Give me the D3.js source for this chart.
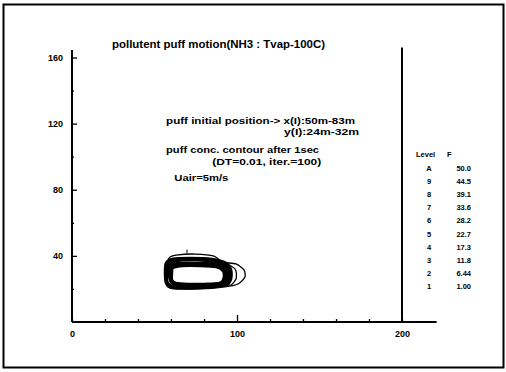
<!DOCTYPE html>
<html>
<head>
<meta charset="utf-8">
<script src="https://cdn.jsdelivr.net/npm/d3@7"></script>
<style>
  body { margin: 0; background: #fff; }
  svg text { font-family: 'Liberation Sans', Arial, sans-serif; font-weight: bold; fill: #000; }
</style>
</head>
<body>
<div id="chart"></div>
<script>
const title = 'pollutent puff motion(NH3 : Tvap-100C)'
const notes = [
  { text: 'puff initial position-> x(I):50m-83m', x: 57, y: 120, len: 189, anchor: 'start' },
  { text: 'y(I):24m-32m', x: 174, y: 113, len: 75, anchor: 'end' },
  { text: 'puff conc. contour after 1sec', x: 57, y: 102, len: 153, anchor: 'start' },
  { text: '(DT=0.01, iter.=100)', x: 85, y: 95, len: 109, anchor: 'start' },
  { text: 'Uair=5m/s', x: 62, y: 85.5, len: 54, anchor: 'start' }
]
const xTicks = [0, 20, 40, 60, 80, 100, 120, 140, 160, 180, 200]
const xLabels = [0, 100, 200]
const yTicks = [20, 40, 60, 80, 100, 120, 140, 160]
const yLabels = [40, 80, 120, 160]
const levels = ['A', '9', '8', '7', '6', '5', '4', '3', '2', '1']
const levelValues = ['50.0', '44.5', '39.1', '33.6', '28.2', '22.7', '17.3', '11.8', '6.44', '1.00']

// contour rings, in metres
const ringOuter = [[57.6, 36.3], [59.4, 39.3], [63, 40.5], [74.5, 41.1], [86.1, 39.9], [91, 36.3], [99.4, 35.1],
  [104.2, 31.5], [104.8, 27.2], [100.6, 23], [92.7, 21.2], [77.6, 20], [59.4, 20.6], [56.4, 25.4], [56.4, 32.7]]
const ringRight = [[90.9, 35.1], [96.4, 33.9], [99.4, 30.9], [99.4, 26], [96.4, 22.4], [92.7, 23], [94.5, 27.2], [94.5, 31.5]]
const ringsInner = [
  [[57, 35.7], [60.6, 38.1], [71.5, 38.7], [84.8, 38.1], [93.3, 35.7], [96.4, 31.5], [96.4, 26], [93.3, 22.4],
    [77.6, 20.6], [60.6, 20.6], [57, 23.6], [56.4, 30.2]],
  [[57.6, 35.4], [61.8, 37.5], [73, 38.1], [85.5, 37.2], [93.3, 34.8], [95.8, 30.9], [95.2, 25.7], [92.1, 22.4],
    [77, 20.9], [60.6, 21.2], [57.3, 24.2], [57, 30.9]],
  [[58.2, 35.1], [63, 36.9], [74.5, 37.5], [86.7, 36.3], [93.3, 33.9], [95.2, 30.2], [94.5, 25.4], [90.9, 22.4],
    [76.4, 21.2], [60.6, 21.8], [57.6, 24.8], [57.6, 31.5]],
  [[59.4, 34.5], [65.5, 35.7], [77.6, 35.7], [88.5, 35.1], [93.3, 32.7], [93.9, 28.4], [92.1, 24.2], [86.7, 22.4],
    [74.5, 21.8], [62.4, 22.4], [59.4, 25.4], [58.8, 31.5]],
  [[60.3, 33.6], [66.4, 34.8], [77.6, 34.8], [88, 34.2], [92.4, 31.8], [93, 27.8], [90.9, 23.9], [83.6, 22.7],
    [72.4, 22.4], [62.7, 23], [60, 25.4], [59.7, 30.9]],
  [[61.2, 32.7], [67.3, 33.9], [77.6, 33.9], [87.3, 33.3], [91.5, 30.9], [92.1, 27.2], [89.7, 23.6], [80.6, 23],
    [70.3, 23], [63, 23.6], [60.6, 25.4], [60.6, 30.2]]
]
const ringMark = [[69.7, 43.8], [69.7, 41.4]]

const width = 506
const height = 372

const svg = d3.select('#chart')
  .append('svg')
  .attr('width', width)
  .attr('height', height)

const x = d3.scaleLinear().domain([0, 200]).range([72, 402])
const y = d3.scaleLinear().domain([0, 160]).range([322, 57.5])

// outer frame
svg.append('rect')
  .attr('x', 3.5).attr('y', 4.5)
  .attr('width', 500).attr('height', 363)
  .attr('fill', 'none').attr('stroke', '#000').attr('stroke-width', 2)

svg.append('text')
  .attr('x', 112).attr('y', 48)
  .attr('font-size', 10)
  .attr('textLength', 213).attr('lengthAdjust', 'spacingAndGlyphs')
  .text(title)

// axes
const xAxis = svg.append('g')
  .attr('transform', `translate(0,${y(0)})`)
  .call(d3.axisBottom(x).tickValues(xTicks).tickSize(0).tickPadding(9)
    .tickFormat(d => xLabels.includes(d) ? d : ''))
xAxis.select('.domain').remove()
xAxis.selectAll('text').attr('font-size', 9).style('font-family', null)
xAxis.selectAll('.tick line')
  .attr('y2', d => d === 100 ? -7 : -3)
  .attr('stroke', '#000').attr('stroke-width', 1.3)

const yAxis = svg.append('g')
  .attr('transform', `translate(${x(0)},0)`)
  .call(d3.axisLeft(y).tickValues(yTicks).tickSize(0).tickPadding(9)
    .tickFormat(d => yLabels.includes(d) ? d : ''))
yAxis.select('.domain').remove()
yAxis.selectAll('text').attr('font-size', 9).style('font-family', null)
yAxis.selectAll('.tick line')
  .attr('x2', d => yLabels.includes(d) ? 5 : 2)
  .attr('stroke', '#000').attr('stroke-width', 1.3)

const axisLines = [
  [[0, 0], [221, 0]],
  [[0, 0], [0, 164.5]],
  [[200, 0], [200, 166]]
]
const straight = d3.line().x(d => x(d[0])).y(d => y(d[1]))
svg.append('g')
  .selectAll('path')
  .data(axisLines)
  .join('path')
  .attr('d', straight)
  .attr('fill', 'none').attr('stroke', '#000').attr('stroke-width', 2)

// notes
svg.append('g')
  .selectAll('text')
  .data(notes)
  .join('text')
  .attr('x', d => x(d.x)).attr('y', d => y(d.y))
  .attr('font-size', 9)
  .attr('text-anchor', d => d.anchor)
  .attr('textLength', d => d.len).attr('lengthAdjust', 'spacingAndGlyphs')
  .text(d => d.text)

// contours
const ring = d3.line().x(d => x(d[0])).y(d => y(d[1])).curve(d3.curveCardinalClosed.tension(0.3))
const contours = svg.append('g').attr('fill', 'none').attr('stroke', '#000')
contours.append('path').datum(ringOuter).attr('d', ring).attr('stroke-width', 1.3)
contours.append('path').datum(ringRight).attr('d', ring).attr('stroke-width', 1.3)
contours.selectAll('.inner')
  .data(ringsInner)
  .join('path')
  .attr('class', 'inner')
  .attr('d', ring)
  .attr('stroke-width', 2.6)
contours.append('path').datum(ringMark).attr('d', straight).attr('stroke-width', 1)

// legend
const row = d3.scalePoint().domain(levels).range([171, 289])
const legend = svg.append('g').attr('font-size', 7.5)
legend.append('text').attr('x', 416).attr('y', 157).text('Level')
legend.append('text').attr('x', 447).attr('y', 157).text('F')
legend.selectAll('.lvl')
  .data(levels)
  .join('text')
  .attr('class', 'lvl')
  .attr('x', 429).attr('y', d => row(d))
  .attr('text-anchor', 'middle')
  .text(d => d)
legend.selectAll('.val')
  .data(levelValues)
  .join('text')
  .attr('class', 'val')
  .attr('x', 471).attr('y', (d, i) => row(levels[i]))
  .attr('text-anchor', 'end')
  .text(d => d)
</script>
</body>
</html>
